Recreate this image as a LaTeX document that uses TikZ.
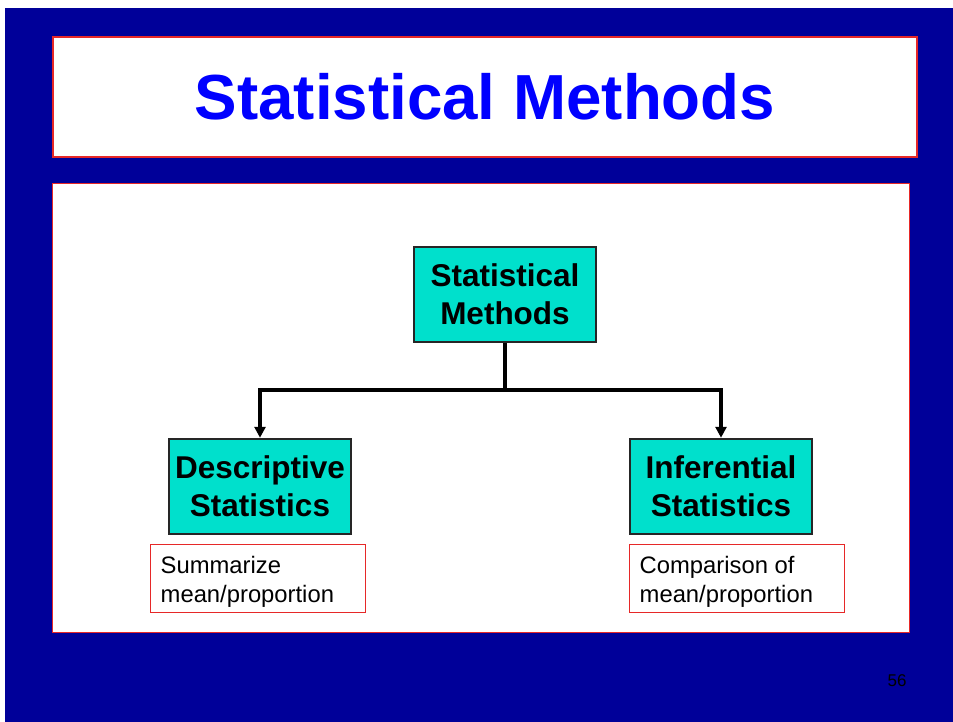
\documentclass[tikz,border=0pt]{standalone}
\usepackage{fontspec}
\setmainfont{Liberation Sans}
\usetikzlibrary{arrows.meta}
\definecolor{bgblue}{RGB}{0,0,153}
\definecolor{boxcyan}{RGB}{0,224,204}
\definecolor{titleblue}{RGB}{0,0,255}
\definecolor{edgered}{RGB}{230,40,40}
\tikzset{
  panel/.style={draw=edgered, line width=1.5pt, fill=white, inner sep=0pt},
  catbox/.style={draw=black!85, line width=2.5pt, fill=boxcyan, minimum width=182pt, minimum height=95pt,
     align=center, font=\fontsize{31.5}{38}\selectfont\bfseries, inner sep=0pt},
  notebox/.style={draw=edgered, line width=1pt, fill=white, minimum width=215pt, minimum height=68pt, inner sep=0pt},
  notetext/.style={anchor=west, align=left, inner sep=0pt, font=\fontsize{23.8}{29}\selectfont},
  link/.style={line width=4pt, draw=black},
  tip/.style={-{Triangle[length=11pt,width=11pt]}},
}
\begin{document}
\begin{tikzpicture}[x=1pt,y=-1pt]
\useasboundingbox (0,0) rectangle (953,722);
\fill[bgblue] (5,8) rectangle (953,722);
\node[panel, minimum width=864pt, minimum height=120pt, font=\fontsize{63.7}{70}\selectfont\bfseries, text=titleblue] (title) at (485,97) {Statistical Methods};
\node[panel, minimum width=857pt, minimum height=449pt] (body) at (481,408) {};
\node[catbox] (top) at (505,294.5) {Statistical\\Methods};
\node[catbox] (desc) at (260,486.5) {Descriptive\\Statistics};
\node[catbox] (inf) at (721,486.5) {Inferential\\Statistics};
\node[notebox] (dnote) at (257.5,578) {};
\node[notebox] (inote) at (736.5,578) {};
\node[notetext] (dtext) at ([xshift=11pt,yshift=-4pt]dnote.west) {Summarize\\mean/proportion};
\node[notetext] (itext) at ([xshift=11pt,yshift=-4pt]inote.west) {Comparison of\\mean/proportion};
\coordinate (junc) at (505,390);
\draw[link] (top.south) -- (junc);
\draw[link, tip] (junc) -| (desc.north);
\draw[link, tip] (junc) -| (inf.north);
\node[font=\fontsize{17}{20}\selectfont, text=black] (page) at (897,681) {56};
\end{tikzpicture}
\end{document}
